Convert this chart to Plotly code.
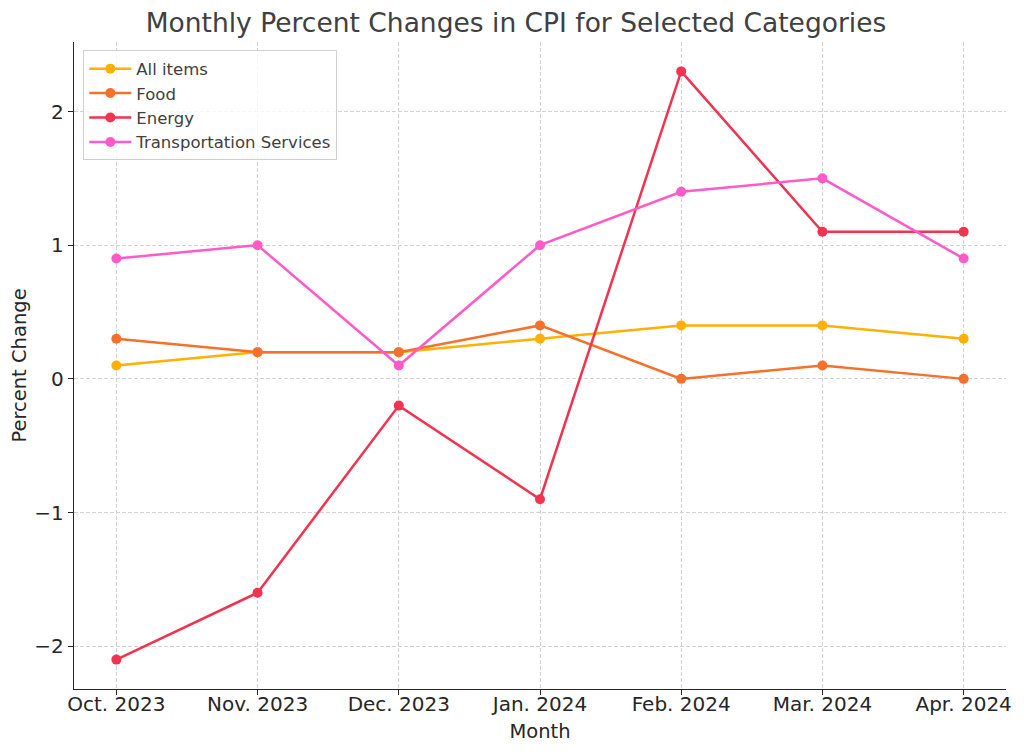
import plotly.graph_objects as go

months = ["Oct. 2023", "Nov. 2023", "Dec. 2023", "Jan. 2024", "Feb. 2024", "Mar. 2024", "Apr. 2024"]
all_items = [0.1, 0.2, 0.2, 0.3, 0.4, 0.4, 0.3]
food = [0.3, 0.2, 0.2, 0.4, 0.0, 0.1, 0.0]
energy = [-2.1, -1.6, -0.2, -0.9, 2.3, 1.1, 1.1]
transport = [0.9, 1.0, 0.1, 1.0, 1.4, 1.5, 0.9]

series = [
    ("All items", all_items, "#FFB000"),
    ("Food", food, "#F5702A"),
    ("Energy", energy, "#F2334F"),
    ("Transportation Services", transport, "#FF5BC8"),
]

x_idx = list(range(len(months)))
fig = go.Figure()
for name, vals, color in series:
    fig.add_trace(go.Scatter(
        x=x_idx, y=vals, name=name, mode="lines+markers",
        line=dict(color=color, width=2.5),
        marker=dict(color=color, size=10),
    ))

font = "DejaVu Sans, sans-serif"
fig.update_layout(
    width=1016, height=747,
    paper_bgcolor="white", plot_bgcolor="white",
    margin=dict(l=66, r=18, t=34, b=66),
    title=dict(text="Monthly Percent Changes in CPI for Selected Categories",
               x=0.5, xanchor="center", y=0.98, yanchor="middle",
               font=dict(family=font, size=26.5, color="#404040")),
    font=dict(family=font, color="#262626"),
    legend=dict(x=0.01, y=0.987, xanchor="left", yanchor="top",
                bgcolor="rgba(255,255,255,0.8)", bordercolor="#d0d0d0", borderwidth=1,
                font=dict(family=font, size=16.5, color="#404040"),
                tracegroupgap=0, itemwidth=42),
    showlegend=True,
)
fig.update_xaxes(
    range=[-0.3, 6.3], tickmode="array", tickvals=x_idx, ticktext=months,
    showgrid=True, gridcolor="#d3d3d3", griddash="4px,2px", gridwidth=1,
    showline=True, linecolor="#262626", linewidth=1.3,
    ticks="outside", ticklen=5, tickcolor="#262626",
    tickfont=dict(size=20, color="#262626"), ticklabelstandoff=-8,
    title=dict(text="Month", font=dict(size=19.5, color="#262626"), standoff=9),
    zeroline=False, automargin=False,
)
fig.update_yaxes(
    range=[-2.32, 2.52], tickmode="array", tickvals=[-2, -1, 0, 1, 2],
    ticktext=["\u22122", "\u22121", "0", "1", "2"],
    showgrid=True, gridcolor="#d3d3d3", griddash="4px,2px", gridwidth=1,
    showline=True, linecolor="#262626", linewidth=1.3,
    ticks="outside", ticklen=5, tickcolor="#262626",
    tickfont=dict(size=20, color="#262626"),
    title=dict(text="Percent Change", font=dict(size=19.5, color="#262626"), standoff=2),
    zeroline=False, automargin=False,
)
fig.write_html("out.html")
